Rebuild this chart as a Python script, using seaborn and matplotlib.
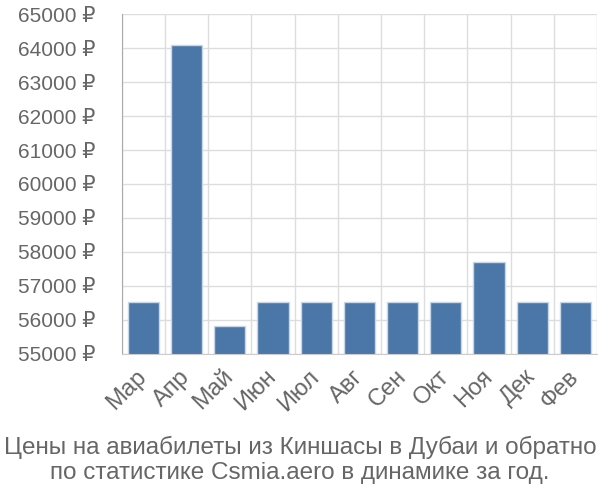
import matplotlib
matplotlib.use("Agg")
import matplotlib.pyplot as plt
import seaborn as sns
import pandas as pd

months = ["Мар", "Апр", "Май", "Июн", "Июл", "Авг", "Сен", "Окт", "Ноя", "Дек", "Фев"]
prices = [56530, 64100, 55830, 56530, 56530, 56530, 56530, 56530, 57720, 56530, 56530]
y_ticks = list(range(55000, 65001, 1000))
title = "Цены на авиабилеты из Киншасы в Дубаи и обратно\nпо статистике Csmia.aero в динамике за год."

sns.set_style("white")
plt.rcParams["font.family"] = ["Liberation Sans", "DejaVu Sans"]

df = pd.DataFrame({"month": months, "price": prices})

fig = plt.figure(figsize=(6, 5), dpi=100)
ax = fig.add_axes([0.203, 0.292, 0.792, 0.68])

sns.barplot(data=df, x="month", y="price", color="#4b77a8", saturation=1,
            width=0.72, edgecolor="#c9d6e6", linewidth=1, ax=ax, zorder=3)

ax.set_ylim(55000, 65000)
ax.set_xlim(-0.5, len(months) - 0.5)
ax.set_yticks(y_ticks)
ax.set_yticklabels([f"{v} ₽" for v in y_ticks])

# vertical grid between categories
ax.set_xticks([i - 0.5 for i in range(len(months) + 1)], minor=True)
ax.grid(axis="y", color="#dddddd", linewidth=1, zorder=0)
ax.grid(axis="x", which="minor", color="#dddddd", linewidth=1, zorder=0)
ax.tick_params(axis="x", which="minor", length=20, color="#dddddd", width=1)
ax.tick_params(axis="x", which="major", length=0, labelsize=17, labelcolor="#666666", pad=14)
ax.tick_params(axis="y", length=17, color="#dddddd", width=1, labelsize=15, labelcolor="#666666", pad=2)
plt.setp(ax.get_xticklabels(), rotation=45, ha="right", va="center", rotation_mode="anchor")

for side in ["top", "right"]:
    ax.spines[side].set_visible(False)
ax.spines["left"].set_color("#aaaaaa")
ax.spines["bottom"].set_color("#cccccc")
ax.spines["left"].set_zorder(4)
ax.spines["bottom"].set_zorder(4)
ax.set_xlabel("")
ax.set_ylabel("")

fig.text(0.5, 0.08, title, ha="center", va="center", fontsize=17.5,
         color="#666666", linespacing=1.22)

fig.savefig("out.png", dpi=100)
